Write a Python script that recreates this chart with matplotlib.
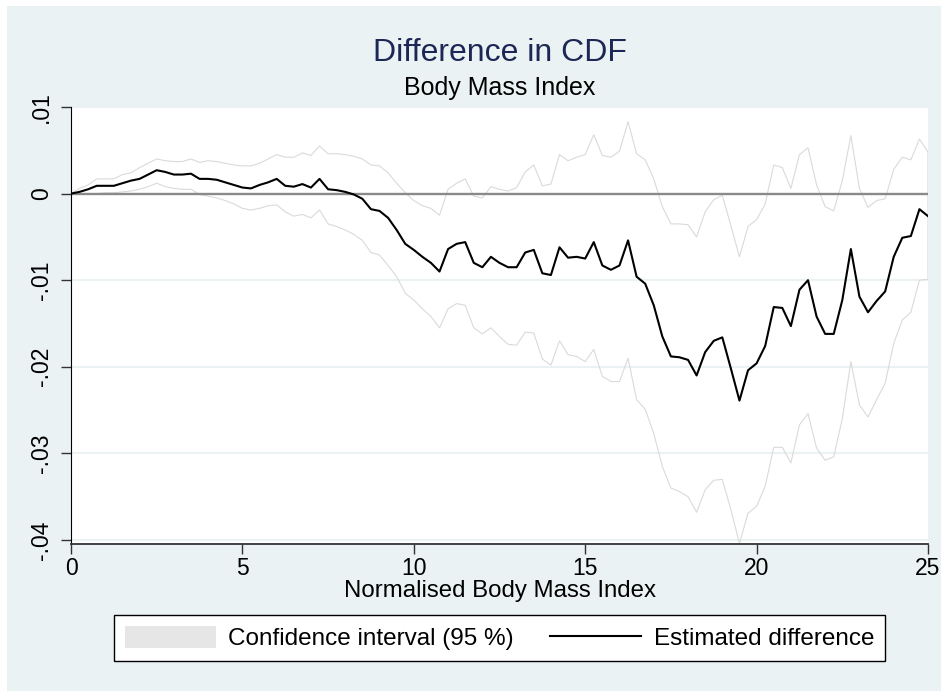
import numpy as np
import matplotlib.pyplot as plt
from matplotlib.patches import Patch, Rectangle
from matplotlib.lines import Line2D

plt.rcParams['font.family'] = ['Liberation Sans', 'DejaVu Sans']

# evaluation grid of the normalised BMI (0 to 25, step 0.25)
bmi = np.linspace(0, 25, 101)

est_diff = [
    0.0, 0.0002, 0.0005, 0.0009, 0.0009, 0.0009, 0.0012, 0.0015, 0.0017, 0.0022,
    0.0027, 0.0025, 0.0022, 0.0022, 0.0023, 0.0017, 0.0017, 0.0016, 0.0013, 0.0010,
    0.0007, 0.0006, 0.0010, 0.0013, 0.0017, 0.0009, 0.0008, 0.0011, 0.0007, 0.0017,
    0.0005, 0.0004, 0.0002, -0.0001, -0.0006, -0.0018, -0.0020, -0.0028, -0.0042, -0.0058,
    -0.0065, -0.0073, -0.0080, -0.0090, -0.0064, -0.0058, -0.0056, -0.0080, -0.0085, -0.0073,
    -0.0080, -0.0085, -0.0085, -0.0068, -0.0065, -0.0092, -0.0094, -0.0062, -0.0074, -0.0073,
    -0.0075, -0.0056, -0.0083, -0.0088, -0.0083, -0.0054, -0.0096, -0.0104, -0.0129, -0.0165,
    -0.0188, -0.0189, -0.0192, -0.0210, -0.0183, -0.0170, -0.0166, -0.0202, -0.0239, -0.0204,
    -0.0196, -0.0176, -0.0131, -0.0132, -0.0153, -0.0111, -0.0100, -0.0142, -0.0162, -0.0162,
    -0.0123, -0.0064, -0.0119, -0.0137, -0.0124, -0.0113, -0.0073, -0.0051, -0.0049, -0.0018,
    -0.0026,
]

ci_upper = [
    0.0, 0.0006, 0.0010, 0.0017, 0.0017, 0.0017, 0.0022, 0.0024, 0.0030, 0.0035,
    0.0040, 0.0038, 0.0037, 0.0037, 0.0040, 0.0036, 0.0038, 0.0037, 0.0035, 0.0033,
    0.0032, 0.0032, 0.0035, 0.0040, 0.0045, 0.0042, 0.0042, 0.0047, 0.0044, 0.0055,
    0.0046, 0.0046, 0.0045, 0.0043, 0.0040, 0.0033, 0.0032, 0.0024, 0.0012, 0.0001,
    -0.0008, -0.0014, -0.0017, -0.0025, 0.0005, 0.0012, 0.0017, -0.0003, -0.0005, 0.0008,
    0.0005, 0.0003, 0.0007, 0.0025, 0.0033, 0.0009, 0.0011, 0.0045, 0.0038, 0.0042,
    0.0045, 0.0068, 0.0044, 0.0042, 0.0049, 0.0083, 0.0046, 0.0039, 0.0017, -0.0015,
    -0.0035, -0.0035, -0.0036, -0.0050, -0.0021, -0.0007, -0.0002, -0.0037, -0.0073, -0.0038,
    -0.0030, -0.0012, 0.0033, 0.0030, 0.0006, 0.0045, 0.0053, 0.0010, -0.0015, -0.0020,
    0.0015, 0.0067, 0.0006, -0.0016, -0.0008, -0.0006, 0.0028, 0.0042, 0.0039, 0.0063,
    0.0048,
]

ci_lower = [
    0.0, 0.0, 0.0, 0.0, 0.0001, 0.0001, 0.0002, 0.0003, 0.0005, 0.0008,
    0.0012, 0.0008, 0.0006, 0.0005, 0.0005, -0.0001, -0.0003, -0.0005, -0.0008, -0.0012,
    -0.0017, -0.0019, -0.0017, -0.0014, -0.0013, -0.0021, -0.0026, -0.0024, -0.0028, -0.0019,
    -0.0035, -0.0038, -0.0042, -0.0047, -0.0054, -0.0068, -0.0071, -0.0083, -0.0096, -0.0115,
    -0.0123, -0.0133, -0.0142, -0.0155, -0.0133, -0.0127, -0.0129, -0.0155, -0.0162, -0.0155,
    -0.0165, -0.0174, -0.0175, -0.0160, -0.0161, -0.0191, -0.0198, -0.0170, -0.0186, -0.0188,
    -0.0194, -0.0180, -0.0211, -0.0217, -0.0217, -0.0190, -0.0238, -0.0249, -0.0277, -0.0315,
    -0.0340, -0.0344, -0.0350, -0.0368, -0.0342, -0.0331, -0.0330, -0.0365, -0.0404, -0.0369,
    -0.0361, -0.0338, -0.0293, -0.0293, -0.0311, -0.0267, -0.0254, -0.0294, -0.0308, -0.0304,
    -0.0260, -0.0194, -0.0244, -0.0258, -0.0238, -0.0219, -0.0173, -0.0146, -0.0137, -0.0100,
    -0.0099,
]

y_ticks = [-0.04, -0.03, -0.02, -0.01, 0.0, 0.01]
y_tick_labels = ['-.04', '-.03', '-.02', '-.01', '0', '.01']
x_ticks = [0, 5, 10, 15, 20, 25]

W, H = 941, 691
bg = '#EAF2F3'

fig = plt.figure(figsize=(W / 100, H / 100), dpi=100, facecolor='white')
# stata style graph region (thin white strip on top and left)
fig.patches.append(Rectangle((7 / W, 0), 1, 1 - 6 / H, transform=fig.transFigure,
                             facecolor=bg, edgecolor='none', zorder=-10))

ax = fig.add_axes([71 / W, (H - 544) / H, (928 - 71) / W, (544 - 107) / H])
ax.set_zorder(1)
ax.set_facecolor('white')

ax.fill_between(bmi, ci_lower, ci_upper, facecolor='none', edgecolor='#DADADA',
                linewidth=0.8, zorder=2)
ax.axhline(0, color='#8A8A8A', linewidth=1.7, zorder=2.5)
ax.plot(bmi, est_diff, color='black', linewidth=1.5, zorder=3)

ax.set_xlim(0, 25)
ax.set_ylim(-0.04046, 0.01)
ax.set_xticks(x_ticks)
ax.set_xticklabels([str(t) for t in x_ticks], fontsize=16.5)
ax.set_yticks(y_ticks)
ax.set_yticklabels(y_tick_labels, fontsize=16.5, rotation=90, va='center')
ax.tick_params(axis='both', length=7.2, width=1, color='#333333')
ax.tick_params(axis='x', pad=2)
ax.tick_params(axis='y', pad=6)

ax.set_axisbelow(True)
ax.yaxis.grid(True, color=bg, linewidth=1.5)
for side in ['top', 'right']:
    ax.spines[side].set_visible(False)
ax.spines['left'].set_color('black')
ax.spines['bottom'].set_color('#333333')
ax.spines['bottom'].set_linewidth(1.3)

cx = (71 + 928) / 2 / W
fig.text(cx, 1 - 61 / H, 'Difference in CDF', ha='center', va='baseline',
         fontsize=23, color='#1C2755')
fig.text(cx, 1 - 95 / H, 'Body Mass Index', ha='center', va='baseline',
         fontsize=18, color='black')
fig.text(cx, 1 - 597 / H, 'Normalised Body Mass Index', ha='center', va='baseline',
         fontsize=17.3, color='black')

handles = [
    Patch(facecolor='#E6E6E6', edgecolor='none'),
    Line2D([0], [0], color='black', linewidth=1.5),
]
leg = fig.legend(handles, ['Confidence interval (95 %)', 'Estimated difference'],
                 loc='center', bbox_to_anchor=(cx, 1 - 638 / H), ncol=2,
                 fontsize=17.5, frameon=True, fancybox=False, framealpha=1,
                 edgecolor='black', handlelength=3.75, handleheight=1.0,
                 handletextpad=0.5, columnspacing=1.5, borderpad=0.45)
leg.get_frame().set_linewidth(1.0)

fig.savefig('out.png', dpi=100, facecolor=fig.get_facecolor())
